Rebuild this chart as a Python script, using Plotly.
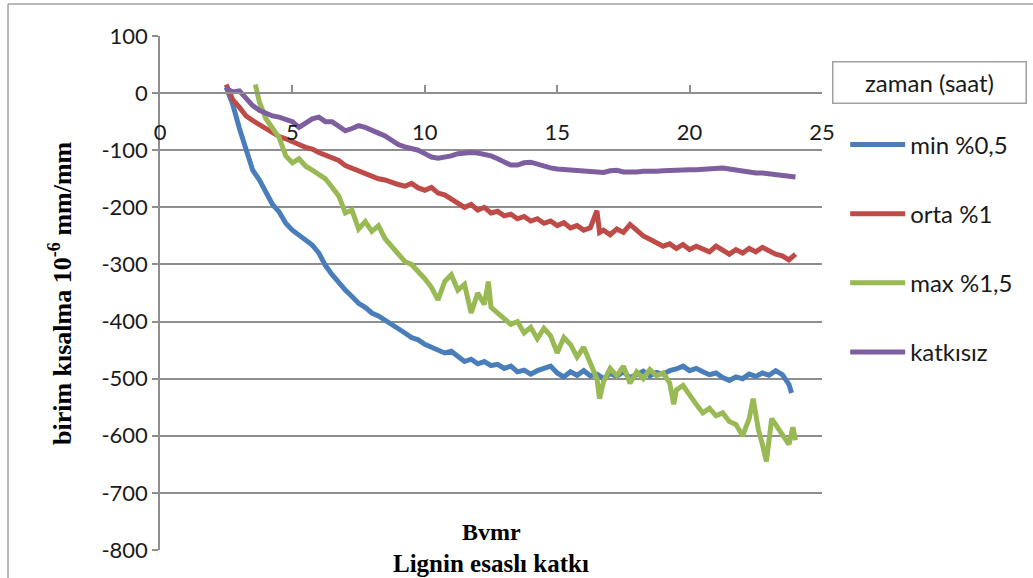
import plotly.graph_objects as go

# ---------------- data ----------------
t_min = [2.5, 2.75, 3.0, 3.25, 3.5, 3.75, 4.0, 4.25, 4.5, 4.75,
         5.0, 5.25, 5.5, 5.75, 6.0, 6.25, 6.5, 6.75, 7.0, 7.25,
         7.5, 7.75, 8.0, 8.25, 8.5, 8.75, 9.0, 9.25, 9.5, 9.75,
         10.0, 10.25, 10.5, 10.75, 11.0, 11.25, 11.5, 11.75, 12.0, 12.25,
         12.5, 12.75, 13.0, 13.25, 13.5, 13.75, 14.0, 14.25, 14.5, 14.75,
         15.0, 15.25, 15.5, 15.75, 16.0, 16.25, 16.5, 16.75, 17.0, 17.25,
         17.5, 17.75, 18.0, 18.25, 18.5, 18.75, 19.0, 19.25, 19.5, 19.75,
         20.0, 20.25, 20.5, 20.75, 21.0, 21.25, 21.5, 21.75, 22.0, 22.25,
         22.5, 22.75, 23.0, 23.25, 23.5, 23.75, 23.85]
v_min = [10, -20, -62, -100, -135, -152, -175, -195, -208, -228,
         -240, -248, -256, -266, -280, -302, -318, -333, -345, -356,
         -368, -375, -385, -390, -397, -405, -412, -420, -428, -432,
         -440, -445, -448, -455, -452, -462, -470, -466, -474, -470,
         -477, -475, -482, -478, -488, -485, -492, -486, -482, -478,
         -490, -497, -488, -494, -486, -495, -492, -500, -491, -496,
         -488, -498, -493, -487, -495, -489, -492, -486, -483, -478,
         -486, -482, -488, -493, -490, -498, -503, -497, -500, -492,
         -496, -490, -494, -486, -493, -510, -525]

t_orta = [2.5, 2.75, 3.0, 3.25, 3.5, 3.75, 4.0, 4.25, 4.5, 4.75,
          5.0, 5.25, 5.5, 5.75, 6.0, 6.25, 6.5, 6.75, 7.0, 7.25,
          7.5, 7.75, 8.0, 8.25, 8.5, 8.75, 9.0, 9.25, 9.5, 9.75,
          10.0, 10.25, 10.5, 10.75, 11.0, 11.25, 11.5, 11.75, 12.0, 12.25,
          12.5, 12.75, 13.0, 13.25, 13.5, 13.75, 14.0, 14.25, 14.5, 14.75,
          15.0, 15.25, 15.5, 15.75, 16.0, 16.25, 16.5, 16.6,
          16.75, 17.0, 17.25, 17.5, 17.75, 18.0, 18.25, 18.5,
          18.75, 19.0, 19.25, 19.5, 19.75, 20.0, 20.25, 20.5, 20.75, 21.0,
          21.25, 21.5, 21.75, 22.0, 22.25, 22.5, 22.75, 23.0, 23.25, 23.5, 23.75, 24.0]
v_orta = [15, -12, -25, -40, -48, -55, -62, -70, -76, -80,
          -86, -90, -95, -98, -104, -108, -112, -118, -127, -132,
          -136, -141, -145, -150, -152, -157, -160, -163, -158, -166,
          -170, -165, -175, -178, -186, -192, -200, -195, -205, -200,
          -210, -207, -215, -212, -220, -216, -224, -220, -228, -224,
          -232, -227, -236, -232, -240, -236, -206, -244,
          -240, -248, -238, -244, -230, -240, -250, -256,
          -262, -268, -264, -272, -265, -274, -268, -272, -278, -268,
          -276, -282, -274, -280, -272, -278, -270, -276, -282, -285, -292, -282]

t_max = [3.6, 3.75, 4.0, 4.25, 4.5, 4.75, 5.0, 5.25, 5.5, 5.75,
         6.0, 6.25, 6.5, 6.75, 7.0, 7.25, 7.5, 7.75, 8.0, 8.25,
         8.5, 8.75, 9.0, 9.25, 9.5, 9.75, 10.0, 10.25, 10.5, 10.75,
         11.0, 11.25, 11.5, 11.75, 12.0, 12.25, 12.4, 12.5, 12.75, 13.0,
         13.25, 13.5, 13.75, 14.0, 14.25, 14.5, 14.75, 15.0, 15.25, 15.5,
         15.75, 16.0, 16.25, 16.5, 16.6, 16.75, 17.0, 17.25, 17.5, 17.75,
         18.0, 18.25, 18.5, 18.75, 19.0, 19.25, 19.4, 19.5, 19.75, 20.0,
         20.25, 20.5, 20.75, 21.0, 21.25, 21.5, 21.75, 22.0, 22.25, 22.4,
         22.6, 22.75, 22.9, 23.1, 23.25, 23.5, 23.75, 23.9, 24.0]
v_max = [15, -15, -45, -62, -78, -110, -122, -115, -128, -135,
         -142, -150, -165, -180, -210, -205, -238, -225, -242, -232,
         -255, -268, -280, -295, -300, -312, -325, -340, -362, -330,
         -318, -345, -335, -385, -350, -370, -330, -375, -385, -395,
         -405, -400, -420, -410, -430, -412, -425, -455, -428, -440,
         -462, -445, -472, -500, -535, -505, -482, -495, -478, -508,
         -488, -500, -484, -495, -490, -508, -545, -520, -512, -530,
         -545, -560, -552, -565, -560, -575, -580, -600, -570, -535,
         -590, -615, -645, -570, -580, -600, -615, -585, -608]

t_katkisiz = [2.5, 2.75, 3.0, 3.25, 3.5, 3.75, 4.0, 4.25, 4.5, 4.75,
              5.0, 5.25, 5.5, 5.75, 6.0, 6.25, 6.5, 6.75, 7.0, 7.25,
              7.5, 7.75, 8.0, 8.25, 8.5, 8.75, 9.0, 9.25, 9.5, 9.75,
              10.0, 10.25, 10.5, 10.75, 11.0, 11.25, 11.5, 11.75, 12.0, 12.25,
              12.5, 12.75, 13.0, 13.25, 13.5, 13.75, 14.0, 14.25, 14.5, 14.75,
              15.0, 15.25, 15.5, 15.75, 16.0, 16.25, 16.5, 16.75, 17.0, 17.25,
              17.5, 17.75, 18.0, 18.25, 18.5, 18.75, 19.0, 19.25, 19.5, 19.75,
              20.0, 20.25, 20.5, 20.75, 21.0, 21.25, 21.5, 21.75, 22.0, 22.25,
              22.5, 22.75, 23.0, 23.25, 23.5, 23.75, 24.0]
v_katkisiz = [8, 2, 4, -8, -22, -30, -36, -40, -42, -45,
              -50, -60, -52, -45, -42, -50, -50, -58, -66, -62,
              -57, -60, -66, -70, -75, -82, -90, -94, -96, -100,
              -106, -112, -114, -113, -110, -106, -104, -104, -105, -107,
              -110, -115, -120, -126, -126, -122, -121, -125, -128, -131,
              -133, -134, -135, -136, -138, -139, -140, -139, -136, -135,
              -138, -139, -138, -137, -138, -137, -136, -135, -136, -135,
              -134, -134, -133, -132, -131, -131, -133, -135, -137, -139,
              -140, -140, -141, -142, -143, -145, -147]

series_names = ["min %0,5", "orta %1", "max %1,5", "katkısız"]
series_colors = ["#4A7EBB", "#BE4B48", "#98B954", "#7D5FA0"]
series_t = [t_min, t_orta, t_max, t_katkisiz]
series_v = [v_min, v_orta, v_max, v_katkisiz]

x_ticks = [0, 5, 10, 15, 20, 25]
y_ticks = [100, 0, -100, -200, -300, -400, -500, -600, -700, -800]
y_ticktext = ["100", "0", "-100", "-200", "-300", "-400", "-500", "-600", "-700", "-800"]

legend_title = "zaman (saat)"
y_title = "birim kısalma 10<sup>-6</sup> mm/mm"
x_title_1 = "Bvmr"
x_title_2 = "Lignin esaslı katkı"

# ---------------- figure ----------------
fig = go.Figure()
for name, col, tt, vv in zip(series_names, series_colors, series_t, series_v):
    fig.add_trace(go.Scatter(x=tt, y=vv, mode="lines", name=name,
                             legendgroup=name,
                             line=dict(color=col, width=5)))

GRID = "#8E8E8E"
TXT = "#1a1a1a"
SANS = "Lato, 'Open Sans', sans-serif"
SERIF = "'Liberation Serif', 'DejaVu Serif', serif"

fig.update_layout(
    width=1033, height=578, autosize=False,
    margin=dict(l=160, r=211, t=36, b=28),
    paper_bgcolor="white", plot_bgcolor="white",
    showlegend=True,
    legend=dict(x=1.035, xanchor="left", y=0.832, yanchor="top",
                font=dict(family=SANS, size=24, color=TXT),
                tracegroupgap=35, itemwidth=55,
                bgcolor="rgba(0,0,0,0)"),
    xaxis=dict(range=[0, 25], tickvals=x_ticks, anchor="free", position=800 / 900,
               showline=True, linecolor=GRID, linewidth=1.5,
               ticks="inside", ticklen=7, tickcolor=GRID, tickwidth=1.5,
               showgrid=False, zeroline=False,
               tickfont=dict(family=SANS, size=22, color=TXT),
               ticklabelstandoff=20),
    yaxis=dict(range=[-800, 100], tickvals=y_ticks, ticktext=y_ticktext,
               showgrid=True, gridcolor=GRID, gridwidth=1.5,
               showline=True, linecolor=GRID, linewidth=1.5,
               ticks="outside", ticklen=6, tickcolor=GRID, tickwidth=1.5,
               zeroline=False,
               tickfont=dict(family=SANS, size=22, color=TXT)),
)

fig.add_annotation(text=legend_title, xref="paper", yref="paper",
                   x=1.163, y=0.9105, xanchor="center", yanchor="middle",
                   showarrow=False, width=190, height=38, align="center",
                   bordercolor="#A0A0A0", borderwidth=1.5, borderpad=1,
                   font=dict(family=SANS, size=24, color=TXT))
fig.add_annotation(text=y_title, xref="paper", yref="paper",
                   x=-0.151, y=0.50, xanchor="center", yanchor="middle",
                   textangle=-90, showarrow=False,
                   font=dict(family=SERIF, size=26, color="black", weight="bold"))
fig.add_annotation(text=x_title_1, xref="paper", yref="paper",
                   x=0.5, y=0.035, xanchor="center", yanchor="middle",
                   showarrow=False,
                   font=dict(family=SERIF, size=24, color="black", weight="bold"))
fig.add_annotation(text=x_title_2, xref="paper", yref="paper",
                   x=0.5, y=-0.0253, xanchor="center", yanchor="middle",
                   showarrow=False,
                   font=dict(family=SERIF, size=25, color="black", weight="bold"))

# chart-area frame (top and left edges visible)
fig.add_shape(type="line", xref="paper", yref="paper",
              x0=-0.2296, x1=1.4, y0=1.0623, y1=1.0623,
              line=dict(color="#A0A0A0", width=1.5))
fig.add_shape(type="line", xref="paper", yref="paper",
              x0=-0.2296, x1=-0.2296, y0=-0.1, y1=1.0623,
              line=dict(color="#A0A0A0", width=1.5))

fig.write_html("out.html", config={"displayModeBar": False},
               post_script="document.body.style.margin='0';document.body.style.overflow='hidden';")
